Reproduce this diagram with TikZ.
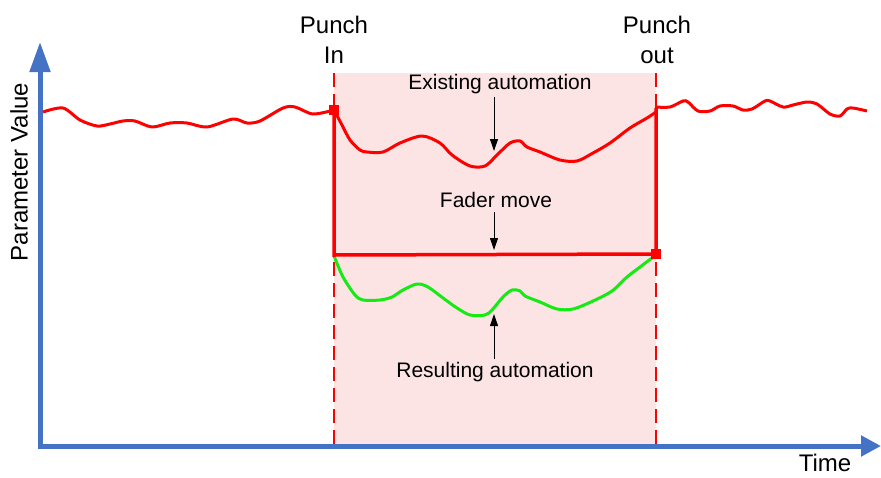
\documentclass[tikz,border=0pt]{standalone}
\usepackage{fontspec}
\setmainfont{Liberation Sans}
\usepackage{tikz}
\usetikzlibrary{arrows.meta,positioning,calc}
\definecolor{axisblue}{RGB}{68,114,196}
\definecolor{punchpink}{RGB}{253,228,228}
\definecolor{autored}{RGB}{255,0,0}
\definecolor{autogreen}{RGB}{20,235,20}
\tikzset{
  axisline/.style={
    line width=5pt, axisblue,
    {Triangle[length=30pt,width=20pt]}-{Triangle[length=20pt,width=20pt]}
  },
  axislabel/.style={font=\fontsize{24}{30}\selectfont, inner sep=0pt},
  punchlabel/.style={
    align=center, font=\fontsize{24}{30}\selectfont, inner sep=0pt
  },
  curvelabel/.style={font=\fontsize{21}{24}\selectfont, inner sep=0pt},
  autocurve/.style={line width=3pt, autored, line join=round},
  rescurve/.style={line width=3pt, autogreen, line join=round},
  punchdash/.style={autored, line width=2pt, dash pattern=on 14pt off 7pt},
  pointer/.style={-{Triangle[length=12pt,width=8pt]}, black, line width=0.9pt},
  marker/.style={rectangle, fill=autored, minimum size=10pt, inner sep=0pt}
}

\begin{document}
\begin{tikzpicture}[x=1pt,y=-1pt]
  \useasboundingbox (0,0) rectangle (881,477);

  % Punch region
  \coordinate (intop) at (334,73);
  \coordinate (inbot) at (334,446);
  \coordinate (outtop) at (656,73);
  \coordinate (outbot) at (656,446);
  \fill[punchpink] (intop) rectangle (outbot);
  \draw[punchdash] (intop) -- (inbot);
  \draw[punchdash] (outtop) -- (outbot);

  % Axes
  \coordinate (orig) at (40,446);
  \coordinate (ytip) at (40,42);
  \coordinate (xtip) at (881,446);
  \draw[axisline] (ytip) -- (orig) -- (xtip);
  \node[axislabel, rotate=90] (yname) at (19,172) {Parameter Value};
  \node[axislabel, anchor=base] (xname) at (825,471) {Time};

  % Existing automation
  \draw[autocurve] plot[smooth, tension=0.5] coordinates {
    (43,112) (63,108) (80,120) (97,126) (110,124) (123,121) (135,121)
    (152,127) (170,123) (187,123) (207,127) (233,119) (247,123) (260,121)
    (283,108) (295,107) (313,114) (334,110)};
  \draw[autocurve] plot[smooth, tension=0.5] coordinates {
    (334,110) (342,125) (350,140) (360,150) (367,152) (383,152) (400,143)
    (422,136) (440,143) (452,155) (470,166) (485,166) (497,155) (510,143)
    (520,141) (527,147) (540,152) (560,160) (577,161) (593,153) (610,143)
    (630,128) (647,118) (656,112)};
  \draw[autocurve] plot[smooth, tension=0.5] coordinates {
    (656,107) (670,107) (683,101) (688,102) (698,111) (710,111) (720,106)
    (733,106) (743,110) (752,109) (765,101) (770,101) (783,107) (793,105)
    (807,102) (817,104) (830,114) (840,116) (847,109) (853,108) (867,111)};

  % Resulting automation
  \draw[rescurve] plot[smooth, tension=0.5] coordinates {
    (334,256) (343,277) (355,295) (363,300) (380,300) (392,297) (403,290)
    (417,284) (428,287) (443,298) (457,308) (470,315) (485,315) (492,310)
    (503,297) (512,290) (520,291) (525,296) (540,302) (557,309) (573,309)
    (593,301) (612,291) (627,277) (640,267) (656,255)};

  % Fader move
  \node[marker] (pin) at (334,110) {};
  \node[marker] (pout) at (656,254) {};
  \coordinate (fadeleft) at (334,255);
  \coordinate (outmark) at (656,108);
  \draw[autored, line width=3.5pt] (pin.center) -- (fadeleft) -- (pout.center)
    -- (outmark);

  % Labels
  \node[punchlabel] (punchin) at (334,40) {Punch\\In};
  \node[punchlabel] (punchout) at (657,40) {Punch\\out};
  \node[curvelabel] (existlbl) at (500,84) {Existing automation};
  \node[curvelabel] (faderlbl) at (496,200) {Fader move};
  \node[curvelabel] (reslbl) at (495,372) {Resulting automation};

  % Arrows
  \coordinate (existtip) at (494,151);
  \coordinate (fadertip) at (494,250);
  \coordinate (restip) at (494,314);
  \draw[pointer] ([yshift=-3pt]existlbl.south -| existtip) -- (existtip);
  \draw[pointer] ([yshift=-4pt]faderlbl.south -| fadertip) -- (fadertip);
  \draw[pointer] ([yshift=3pt]reslbl.north -| restip) -- (restip);
\end{tikzpicture}
\end{document}
